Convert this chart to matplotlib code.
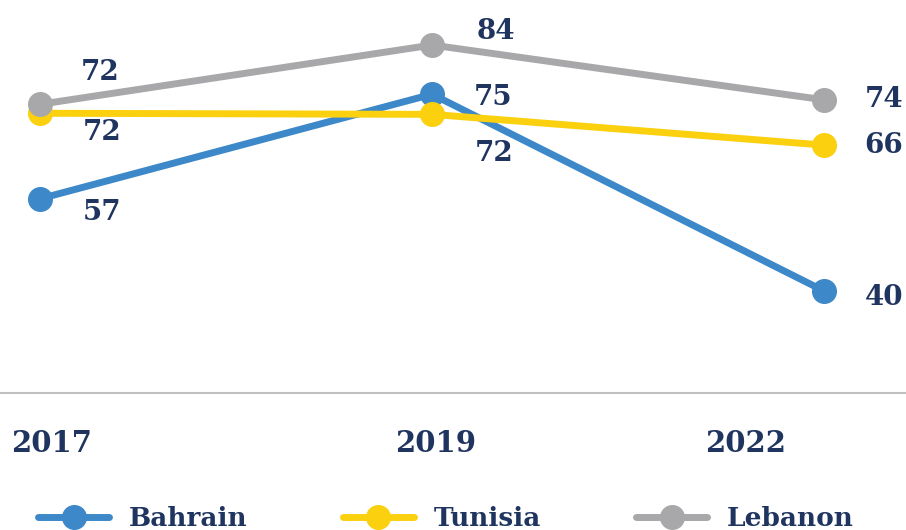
import matplotlib.pyplot as plt
import numpy as np

# dane
lata = ["2017", "2019", "2022"]
bahrain = [56.5, 75.2, 40.0]
tunisia = [71.8, 71.6, 66.1]
lebanon = [73.4, 84.0, 74.2]
etyk_bahrain = ["57", "75", "40"]
etyk_tunisia = ["72", "72", "66"]
etyk_lebanon = ["72", "84", "74"]
poz_lat = [0.03, 1.01, 1.80]

granat = "#1F3560"
font = "DejaVu Serif"

fig = plt.figure(figsize=(9.06, 5.30), dpi=100)
ax = fig.add_axes([0, (530 - 393) / 530, 1, 393 / 530])

x = np.arange(len(lata))
serie = [
    ("Bahrain", bahrain, etyk_bahrain, "#3D88C8"),
    ("Tunisia", tunisia, etyk_tunisia, "#FAD00F"),
    ("Lebanon", lebanon, etyk_lebanon, "#A8A8AB"),
]
for nazwa, y, et, kol in serie:
    ax.plot(x, y, color=kol, lw=5, marker="o", markersize=17, label=nazwa,
            solid_capstyle="round")

# przesuniecia etykiet (w punktach)
przes = {
    "Bahrain": [(45, -10), (44, -2), (43, -5)],
    "Tunisia": [(45, -14), (45, -28), (43, 0)],
    "Lebanon": [(43, 23), (46, 10), (43, 0)],
}
for nazwa, y, et, kol in serie:
    for i in range(len(x)):
        ax.annotate(et[i], (x[i], y[i]), xytext=przes[nazwa][i],
                    textcoords="offset points", ha="center", va="center",
                    fontsize=20, fontweight="bold", family=font, color=granat)

ax.set_xlim(-0.102, 2.209)
ax.set_ylim(21.75, 92.06)
ax.set_yticks([])
ax.set_xticks(poz_lat)
ax.set_xticklabels(lata, fontsize=21, fontweight="bold", family=font, color=granat)
ax.tick_params(axis="x", length=0, pad=26)
for s in ["top", "left", "right"]:
    ax.spines[s].set_visible(False)
ax.spines["bottom"].set_color("#BFBFBF")
ax.spines["bottom"].set_linewidth(1.5)

leg = fig.legend(loc="center left", bbox_to_anchor=(38 / 906, 1 - 519 / 530),
                 ncol=3, frameon=False, borderpad=0, borderaxespad=0,
                 handlelength=2.7, handletextpad=0.75, columnspacing=3.6,
                 prop={"family": font, "weight": "bold", "size": 19})
for t in leg.get_texts():
    t.set_color(granat)

fig.savefig("out.png", dpi=100)
